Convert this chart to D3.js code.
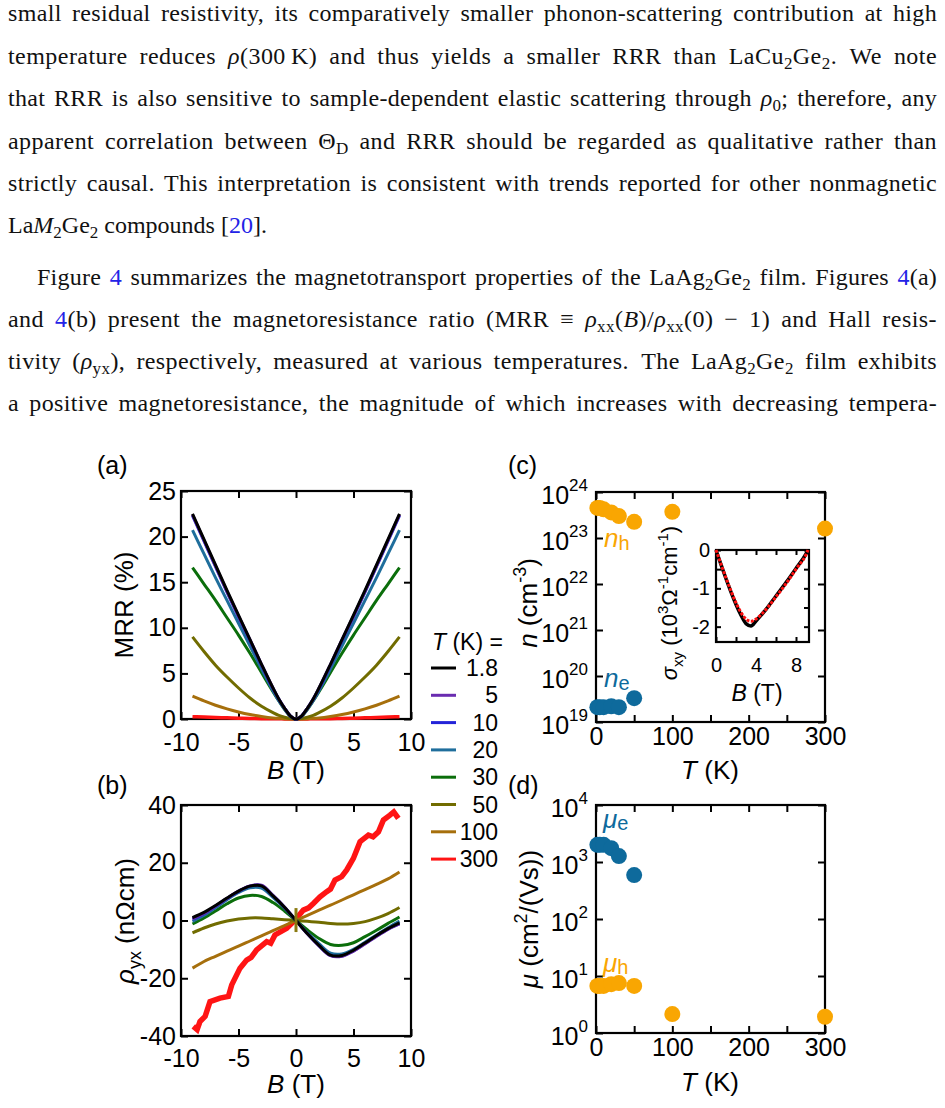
<!DOCTYPE html>
<html>
<head>
<meta charset="utf-8">
<script src="https://cdn.jsdelivr.net/npm/d3@7"></script>
<style>
body { margin: 0; background: #fff; }
svg { display: block; }
</style>
</head>
<body>
<svg id="fig" width="945" height="1108"></svg>
<script>
// ---------- data ----------
var temps = ["1.8", "5", "10", "20", "30", "50", "100", "300"];
var tempColors = ["#000000", "#6a2cb0", "#2424d8", "#1f6e9c", "#0b6e0b", "#716c00", "#a66f0c", "#ff1414"];

// (a) magnetoresistance ratio, %
var mrrB = [-9, -8, -7, -6, -5, -4, -3, -2, -1.5, -1, -0.5, 0, 0.5, 1, 1.5, 2, 3, 4, 5, 6, 7, 8, 9];
var mrr_1p8 = [22.5, 19.7, 16.9, 14.1, 11.4, 8.7, 6.0, 3.4, 2.2, 1.2, 0.35, 0, 0.35, 1.2, 2.2, 3.4, 6.0, 8.7, 11.4, 14.1, 16.9, 19.7, 22.5];
var mrr_5 = [22.4, 19.6, 16.8, 14.0, 11.3, 8.7, 6.0, 3.4, 2.2, 1.2, 0.35, 0, 0.35, 1.2, 2.2, 3.4, 6.0, 8.7, 11.3, 14.0, 16.8, 19.6, 22.4];
var mrr_10 = [22.3, 19.5, 16.7, 13.9, 11.2, 8.6, 5.9, 3.3, 2.2, 1.2, 0.35, 0, 0.35, 1.2, 2.2, 3.3, 5.9, 8.6, 11.2, 13.9, 16.7, 19.5, 22.3];
var mrr_20 = [20.7, 18.1, 15.5, 13.0, 10.5, 8.0, 5.5, 3.1, 2.0, 1.1, 0.32, 0, 0.32, 1.1, 2.0, 3.1, 5.5, 8.0, 10.5, 13.0, 15.5, 18.1, 20.7];
var mrr_30 = [16.6, 14.8, 13.0, 11.1, 9.2, 7.2, 5.1, 3.0, 2.0, 1.05, 0.3, 0, 0.3, 1.05, 2.0, 3.0, 5.1, 7.2, 9.2, 11.1, 13.0, 14.8, 16.6];
var mrr_50 = [9.0, 7.4, 5.9, 4.6, 3.4, 2.3, 1.4, 0.7, 0.4, 0.2, 0.05, 0, 0.05, 0.2, 0.4, 0.7, 1.4, 2.3, 3.4, 4.6, 5.9, 7.4, 9.0];
var mrr_100 = [2.5, 1.98, 1.51, 1.11, 0.77, 0.49, 0.28, 0.12, 0.07, 0.03, 0.01, 0, 0.01, 0.03, 0.07, 0.12, 0.28, 0.49, 0.77, 1.11, 1.51, 1.98, 2.5];
var mrr_300 = [0.26, 0.21, 0.17, 0.13, 0.09, 0.06, 0.04, 0.02, 0.02, 0.01, 0.01, 0, 0.01, 0.01, 0.02, 0.02, 0.04, 0.06, 0.09, 0.13, 0.17, 0.21, 0.26];

// (b) Hall resistivity, nOhm cm
var hallB = [-9, -8, -7, -6, -5, -4, -3, -2, -1, 0, 1, 2, 3, 4, 5, 6, 7, 8, 9];
var hall_1p8 = [1.0, 2.8, 5.2, 7.8, 10.2, 11.9, 12.0, 8.5, 4.6, 0, -4.6, -8.6, -12.0, -12.1, -10.3, -7.8, -5.2, -2.8, -0.8];
var hall_5 = [0.6, 2.5, 5.0, 7.7, 10.2, 12.0, 12.2, 8.7, 4.7, 0, -4.7, -8.8, -12.2, -12.4, -10.6, -8.1, -5.5, -3.1, -1.2];
var hall_10 = [0.5, 2.4, 4.9, 7.6, 10.1, 11.9, 12.1, 8.6, 4.6, 0, -4.6, -8.7, -12.1, -12.3, -10.5, -8.0, -5.4, -3.0, -1.1];
var hall_20 = [-0.3, 1.8, 4.4, 7.2, 9.7, 11.3, 11.2, 8.0, 4.3, 0, -4.3, -8.0, -11.3, -11.6, -10.0, -7.5, -5.0, -2.5, -0.2];
var hall_30 = [-1.2, 0.9, 3.3, 5.8, 7.8, 8.7, 8.3, 6.2, 3.3, 0, -3.3, -6.2, -8.3, -8.6, -7.7, -5.6, -3.4, -1.0, 1.2];
var hall_50 = [-4.3, -2.6, -1.2, -0.2, 0.5, 0.9, 0.9, 0.6, 0.3, 0, -0.3, -0.6, -1.0, -1.2, -1.0, -0.4, 0.8, 2.4, 4.5];
var hall_100 = [-16.5, -14.2, -12.4, -10.6, -8.9, -7.1, -5.3, -3.5, -1.8, 0, 1.8, 3.6, 5.3, 7.1, 8.9, 10.7, 12.5, 14.4, 16.8];
var hall300B = [-8.93, -8.6, -8.35, -7.9, -7.48, -6.61, -5.88, -5.59, -4.87, -4.29, -3.9, -3.42, -2.55, -2.2, -1.83, -0.81, -0.09, 0.64, 1.1, 1.51, 2.09, 2.67, 3.0, 3.39, 3.97, 4.41, 4.99, 5.57, 6.3, 6.7, 7.17, 7.6, 8.17, 8.5, 8.9];
var hall_300 = [-36.7, -37.8, -35.0, -33.2, -28.1, -26.9, -26.3, -22.3, -16.5, -13.7, -12.8, -10.2, -7.3, -7.9, -5.0, -2.7, 0.1, 3.6, 4.4, 5.9, 8.2, 10.0, 10.9, 14.0, 15.2, 17.5, 21.5, 27.3, 29.6, 29.0, 30.7, 34.8, 36.5, 37.6, 35.4];
var hallJumpB = [0, 0];
var hallJumpV = [4.3, -4.0];

// (c) carrier densities, cm^-3
var holeT = [1.8, 5, 10, 20, 30, 50, 100, 300];
var nHole = [4.5e23, 4.5e23, 4.2e23, 3.6e23, 3.0e23, 2.25e23, 3.7e23, 1.6e23];
var elecT = [1.8, 5, 10, 20, 30, 50];
var nElec = [2.1e19, 2.1e19, 2.1e19, 2.2e19, 2.1e19, 3.3e19];

// (c) inset: sigma_xy at 1.8 K, 10^3 Ohm^-1 cm^-1
var insetB = [0, 0.5, 1, 1.5, 2, 2.5, 3, 3.5, 4, 5, 6, 7, 8, 9, 9.2];
var sigmaData = [0, -0.38, -0.75, -1.1, -1.42, -1.7, -1.92, -1.98, -1.85, -1.55, -1.2, -0.85, -0.48, -0.1, 0];
var sigmaFit = [0, -0.37, -0.73, -1.07, -1.38, -1.63, -1.8, -1.86, -1.8, -1.55, -1.22, -0.88, -0.5, -0.12, 0];

// (d) mobilities, cm^2/(Vs)
var muElec = [2.0e3, 2.0e3, 2.0e3, 1.75e3, 1.27e3, 5.9e2];
var muHole = [6.7, 6.7, 6.7, 7.2, 7.5, 6.7, 2.15, 1.93];

// ticks
var bTicks = [-10, -5, 0, 5, 10];
var mrrTicks = [0, 5, 10, 15, 20, 25];
var hallTicks = [-40, -20, 0, 20, 40];
var tTicks = [0, 50, 100, 150, 200, 250, 300];
var nDecades = [19, 20, 21, 22, 23, 24];
var muDecades = [0, 1, 2, 3, 4];
var insetBTicks = [0, 2, 4, 6, 8];
var insetSTicks = [0, -0.5, -1, -1.5, -2];

// body text
var textLines = [
  "small residual resistivity, its comparatively smaller phonon-scattering contribution at high",
  "temperature reduces {i:ρ}(300\u2009K) and thus yields a smaller RRR than LaCu{s:2}Ge{s:2}.\u2002We note",
  "that RRR is also sensitive to sample-dependent elastic scattering through {i:ρ}{s:0}; therefore, any",
  "apparent correlation between Θ{s:D} and RRR should be regarded as qualitative rather than",
  "strictly causal. This interpretation is consistent with trends reported for other nonmagnetic",
  "La{i:M}{s:2}Ge{s:2} compounds [{b:20}].",
  "Figure {b:4} summarizes the magnetotransport properties of the LaAg{s:2}Ge{s:2} film. Figures {b:4}(a)",
  "and {b:4}(b) present the magnetoresistance ratio (MRR ≡ {i:ρ}{s:xx}({i:B})/{i:ρ}{s:xx}(0) − 1) and Hall resis-",
  "tivity ({i:ρ}{s:yx}), respectively, measured at various temperatures.\u2002The LaAg{s:2}Ge{s:2} film exhibits",
  "a positive magnetoresistance, the magnitude of which increases with decreasing tempera-"
];
var lineY = [21, 64, 106, 149, 191, 233, 285, 327, 369, 411];
var lineX = [8, 8, 8, 8, 8, 8, 37, 8, 8, 8];
var lineJustify = [true, true, true, true, true, false, true, true, true, true];

// ---------- drawing ----------
var SANS = "'Liberation Sans', Arial, Helvetica, sans-serif";
var SERIF = "'Liberation Serif', 'Times New Roman', serif";
var svg = d3.select("#fig");

// rich text: {i:..} italic, {s:..} subscript, {u:..} superscript, {b:..} blue
function addRich(sel, str, fs, subShift, supShift, subScale) {
    var re = /\{([isub]):([^}]*)\}/g;
    var parts = [], last = 0, m;
    while ((m = re.exec(str)) !== null) {
        if (m.index > last) parts.push({t: str.slice(last, m.index), k: ""});
        parts.push({t: m[2], k: m[1]});
        last = re.lastIndex;
    }
    if (last < str.length) parts.push({t: str.slice(last), k: ""});
    var shift = 0;
    parts.forEach(function (p) {
        var ts = sel.append("tspan").text(p.t);
        var target = p.k === "s" ? subShift : (p.k === "u" ? -supShift : 0);
        if (target !== shift) { ts.attr("dy", target - shift); shift = target; }
        if (p.k === "s" || p.k === "u") ts.attr("font-size", Math.round(fs * (subScale || 0.7)));
        if (p.k === "i") ts.attr("font-style", "italic");
        if (p.k === "b") ts.attr("fill", "#2323e6");
    });
}

// paragraph text, justified: a little letter spacing, the rest in the word spaces
textLines.forEach(function (line, i) {
    var t = svg.append("text")
        .attr("x", lineX[i]).attr("y", lineY[i])
        .attr("font-family", SERIF).attr("font-size", 24).attr("fill", "#111")
        .style("white-space", "pre");
    addRich(t, line, 24, 5, 8, 0.72);
    if (lineJustify[i]) {
        var content = t.text();
        var natural = t.node().getComputedTextLength();
        var slack = (937 - lineX[i]) - natural;
        var ls = Math.max(0, Math.min(0.45, slack * 0.45 / content.length));
        var spaces = (content.match(/ /g) || []).length;
        var ws = (slack - ls * content.length) / Math.max(1, spaces);
        t.attr("letter-spacing", ls).attr("word-spacing", ws);
    }
});

function label(x, y, str, fs, opt) {
    opt = opt || {};
    var t = svg.append("text").attr("x", x).attr("y", y)
        .attr("font-family", SANS).attr("font-size", fs)
        .attr("fill", opt.color || "#000")
        .attr("text-anchor", opt.anchor || "start");
    if (opt.rotate) t.attr("transform", "rotate(-90," + x + "," + y + ")");
    addRich(t, str, fs, opt.sub !== undefined ? opt.sub : fs * 0.28, fs * 0.42, opt.subScale || 0.7);
    return t;
}

// framed axes with inward ticks on all four sides
function boxAxes(x, y, opt) {
    var x0 = x.range()[0], x1 = x.range()[1];
    var yb = y.range()[0], yt = y.range()[1];
    var tk = opt.tick || 7;
    var g = svg.append("g");
    g.append("g").attr("transform", "translate(0," + yb + ")")
        .call(d3.axisBottom(x).tickValues(opt.xTicks).tickSize(-tk).tickPadding(opt.xPad).tickFormat(opt.xFmt));
    g.append("g").attr("transform", "translate(0," + yt + ")")
        .call(d3.axisTop(x).tickValues(opt.xTicks).tickSize(-tk).tickFormat(""));
    g.append("g").attr("transform", "translate(" + x0 + ",0)")
        .call(d3.axisLeft(y).tickValues(opt.yTicks).tickSize(-tk).tickPadding(opt.yPad).tickFormat(opt.yFmt));
    g.append("g").attr("transform", "translate(" + x1 + ",0)")
        .call(d3.axisRight(y).tickValues(opt.yTicks).tickSize(-tk).tickFormat(""));
    g.selectAll(".domain").remove();
    g.selectAll(".tick line").attr("stroke", "#000").attr("stroke-width", 2);
    g.selectAll(".tick text").attr("font-family", SANS).attr("font-size", opt.fs || 25).attr("fill", "#000");
    g.append("rect").attr("x", x0).attr("y", yt).attr("width", x1 - x0).attr("height", yb - yt)
        .attr("fill", "none").attr("stroke", "#000").attr("stroke-width", 2.2);
    return g;
}

function logLabels(y, decades, xRight) {
    decades.forEach(function (d) {
        var t = svg.append("text").attr("x", xRight).attr("y", y(Math.pow(10, d)) + 12)
            .attr("font-family", SANS).attr("font-size", 25).attr("text-anchor", "end");
        t.append("tspan").text("10");
        t.append("tspan").attr("dy", -13).attr("font-size", 17).text(d);
    });
}

var plain = function (d) { return String(d); };

// ---- panel (a) ----
var xa = d3.scaleLinear().domain([-10, 10]).range([181, 411]);
var ya = d3.scaleLinear().domain([0, 25]).range([719, 491]);
boxAxes(xa, ya, {xTicks: bTicks, yTicks: mrrTicks, xPad: 14, yPad: 5, xFmt: plain, yFmt: plain});

var mrrSeries = [mrr_1p8, mrr_5, mrr_10, mrr_20, mrr_30, mrr_50, mrr_100, mrr_300];
var lineA = d3.line().x(function (d) { return xa(d[0]); }).y(function (d) { return ya(d[1]); }).curve(d3.curveMonotoneX);
for (var i = mrrSeries.length - 1; i >= 0; i--) {
    svg.append("path")
        .datum(d3.zip(mrrB, mrrSeries[i]))
        .attr("fill", "none").attr("stroke", tempColors[i])
        .attr("stroke-width", i === 7 ? 3.5 : 3).attr("stroke-linejoin", "round")
        .attr("d", lineA);
}
label(296, 779, "{i:B} (T)", 26, {anchor: "middle"});
label(133, 605, "MRR (%)", 26, {anchor: "middle", rotate: true});
label(97, 474, "(a)", 25);

// ---- panel (b) ----
var xb = d3.scaleLinear().domain([-10, 10]).range([181, 411]);
var yb = d3.scaleLinear().domain([-40, 40]).range([1036, 805]);
boxAxes(xb, yb, {xTicks: bTicks, yTicks: hallTicks, xPad: 13, yPad: 5, xFmt: plain, yFmt: plain});

var hallSeries = [hall_1p8, hall_5, hall_10, hall_20, hall_30, hall_50, hall_100];
var lineB = d3.line().x(function (d) { return xb(d[0]); }).y(function (d) { return yb(d[1]); });
svg.append("path")
    .datum(d3.zip(hall300B, hall_300))
    .attr("fill", "none").attr("stroke", tempColors[7])
    .attr("stroke-width", 5.5).attr("stroke-linejoin", "miter")
    .attr("d", lineB);
for (var j = hallSeries.length - 1; j >= 0; j--) {
    svg.append("path")
        .datum(d3.zip(hallB, hallSeries[j]))
        .attr("fill", "none").attr("stroke", tempColors[j])
        .attr("stroke-width", 3).attr("stroke-linejoin", "round")
        .attr("d", lineB.curve(d3.curveCatmullRom.alpha(0.5)));
}
svg.append("path")
    .datum(d3.zip(hallJumpB, hallJumpV))
    .attr("fill", "none").attr("stroke", "#8a7a10").attr("stroke-width", 3)
    .attr("d", d3.line().x(function (d) { return xb(d[0]); }).y(function (d) { return yb(d[1]); }));
label(296, 1093, "{i:B} (T)", 26, {anchor: "middle"});
label(134, 921, "{i:ρ}{s:yx} (nΩcm)", 26, {anchor: "middle", rotate: true});
label(97, 794, "(b)", 25);

// ---- legend ----
label(432, 650, "{i:T} (K) =", 23);
temps.forEach(function (t, k) {
    var yy = 668 + k * 27.3;
    svg.append("line").attr("x1", 431).attr("x2", 456).attr("y1", yy).attr("y2", yy)
        .attr("stroke", tempColors[k]).attr("stroke-width", 3);
    label(498, yy + 8, t, 23, {anchor: "end"});
});

// ---- panel (c) ----
var xc = d3.scaleLinear().domain([0, 300]).range([596, 825]);
var yc = d3.scaleLog().domain([1e19, 1e24]).range([722, 492]);
var tFmt = function (d) { return d % 100 === 0 ? String(d) : ""; };
boxAxes(xc, yc, {xTicks: tTicks, yTicks: nDecades.map(function (d) { return Math.pow(10, d); }),
    xPad: 5, yPad: 9, xFmt: tFmt, yFmt: function () { return ""; }});
logLabels(yc, nDecades, 588);

svg.append("g").selectAll("circle").data(d3.zip(elecT, nElec)).join("circle")
    .attr("cx", function (d) { return xc(d[0]); }).attr("cy", function (d) { return yc(d[1]); })
    .attr("r", 8).attr("fill", "#0e6a9c");
svg.append("g").selectAll("circle").data(d3.zip(holeT, nHole)).join("circle")
    .attr("cx", function (d) { return xc(d[0]); }).attr("cy", function (d) { return yc(d[1]); })
    .attr("r", 8).attr("fill", "#f9a602");
label(604, 547, "{i:n}{s:h}", 26, {color: "#f9a602", sub: 3, subScale: 0.75});
label(604, 687, "{i:n}{s:e}", 26, {color: "#0e6a9c", sub: 3, subScale: 0.75});
label(710, 779, "{i:T} (K)", 26, {anchor: "middle"});
label(537, 603, "{i:n} (cm{u:-3})", 26, {anchor: "middle", rotate: true});
label(508, 474, "(c)", 25);

// inset
var xi = d3.scaleLinear().domain([0, 9.3]).range([716, 809]);
var yi = d3.scaleLinear().domain([-2.4, 0]).range([642, 550]);
svg.append("rect").attr("x", 716).attr("y", 550).attr("width", 93).attr("height", 92).attr("fill", "#fff");
boxAxes(xi, yi, {xTicks: insetBTicks, yTicks: insetSTicks, xPad: 16, yPad: 6, tick: 5, fs: 20,
    xFmt: function (d) { return d % 4 === 0 ? String(d) : ""; },
    yFmt: function (d) { return Number.isInteger(d) ? String(d) : ""; }});
var lineI = d3.line().x(function (d) { return xi(d[0]); }).y(function (d) { return yi(d[1]); }).curve(d3.curveMonotoneX);
svg.append("path").datum(d3.zip(insetB, sigmaData))
    .attr("fill", "none").attr("stroke", "#000").attr("stroke-width", 3.5).attr("d", lineI);
svg.append("path").datum(d3.zip(insetB, sigmaFit))
    .attr("fill", "none").attr("stroke", "#ff1010").attr("stroke-width", 3)
    .attr("stroke-dasharray", "3 1.5").attr("d", lineI);
label(757, 701, "{i:B} (T)", 23, {anchor: "middle"});
label(677, 603, "{i:σ}{s:xy} (10{u:3}Ω{u:-1}cm{u:-1})", 22, {anchor: "middle", rotate: true});

// ---- panel (d) ----
var xd = d3.scaleLinear().domain([0, 300]).range([596, 825]);
var yd = d3.scaleLog().domain([1, 1e4]).range([1033, 805]);
boxAxes(xd, yd, {xTicks: tTicks, yTicks: muDecades.map(function (d) { return Math.pow(10, d); }),
    xPad: 5, yPad: 9, xFmt: tFmt, yFmt: function () { return ""; }});
logLabels(yd, muDecades, 588);

svg.append("g").selectAll("circle").data(d3.zip(elecT, muElec)).join("circle")
    .attr("cx", function (d) { return xd(d[0]); }).attr("cy", function (d) { return yd(d[1]); })
    .attr("r", 8).attr("fill", "#0e6a9c");
svg.append("g").selectAll("circle").data(d3.zip(holeT, muHole)).join("circle")
    .attr("cx", function (d) { return xd(d[0]); }).attr("cy", function (d) { return yd(d[1]); })
    .attr("r", 8).attr("fill", "#f9a602");
label(603, 828, "{i:μ}{s:e}", 26, {color: "#0e6a9c", sub: 2, subScale: 0.75});
label(603, 972, "{i:μ}{s:h}", 26, {color: "#f9a602", sub: 2, subScale: 0.75});
label(710, 1091, "{i:T} (K)", 26, {anchor: "middle"});
label(538, 919, "{i:μ} (cm{u:2}/(Vs))", 26, {anchor: "middle", rotate: true});
label(508, 794, "(d)", 25);
</script>
</body>
</html>
